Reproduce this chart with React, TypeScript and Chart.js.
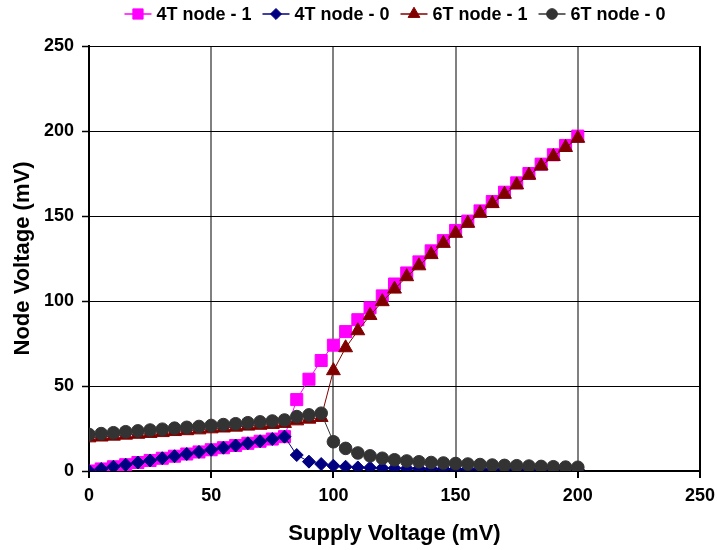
import React, { useEffect, useRef } from "react";
import { Chart, registerables } from "chart.js";

Chart.register(...registerables);

// ---- data ----
const supplyVoltage = [
  0, 5, 10, 15, 20, 25, 30, 35, 40, 45, 50, 55, 60, 65, 70, 75, 80, 85, 90, 95,
  100, 105, 110, 115, 120, 125, 130, 135, 140, 145, 150, 155, 160, 165, 170, 175,
  180, 185, 190, 195, 200,
];

const fourTNode1 = [
  0, 1.2, 2.5, 3.7, 5.0, 6.2, 7.5, 8.7, 10.0, 11.2, 12.5, 13.7, 15.0, 16.3, 17.5,
  18.8, 20.2, 42, 54, 65, 74, 82, 89, 96, 103, 110, 116.5, 123, 129.5, 135.5,
  141.5, 147, 153, 158.5, 164, 169.5, 175, 180.5, 186, 191.5, 197,
];

const fourTNode0 = [
  0, 1.2, 2.5, 3.7, 5.0, 6.2, 7.5, 8.7, 10.0, 11.2, 12.5, 13.7, 15.0, 16.3, 17.5,
  18.8, 20.2, 9.4, 5.5, 4.1, 3.1, 2.5, 2.1, 1.9, 1.7, 1.6, 1.5, 1.4, 1.3, 1.3,
  1.2, 1.2, 1.1, 1.1, 1.1, 1.0, 1.0, 1.0, 1.0, 0.9, 0.9,
];

const sixTNode1 = [
  19.5, 20.0, 20.5, 21.1, 21.6, 22.1, 22.6, 23.2, 23.7, 24.2, 24.8, 25.3, 25.8,
  26.4, 26.9, 27.4, 28.0, 29.5, 30.5, 31.5, 59, 72.5, 82.5, 91.5, 99.6, 107,
  114.3, 120.7, 127.3, 133.9, 139.8, 145.7, 151.6, 157.3, 162.8, 168.3, 174,
  179.4, 185, 190.3, 195.7,
];

const sixTNode0 = [
  21.5, 22.0, 22.5, 23.1, 23.6, 24.1, 24.6, 25.2, 25.7, 26.2, 26.8, 27.3, 27.8,
  28.4, 28.9, 29.4, 30.0, 32.0, 33.0, 34.0, 17.2, 13.3, 10.6, 8.9, 7.5, 6.6, 5.9,
  5.4, 5.0, 4.7, 4.4, 4.1, 3.8, 3.5, 3.3, 3.1, 2.9, 2.7, 2.5, 2.3, 2.2,
];

const seriesLabels = ["4T node - 1", "4T node - 0", "6T node - 1", "6T node - 0"];
const xAxisTitle = "Supply Voltage (mV)";
const yAxisTitle = "Node Voltage (mV)";
const axisMin = 0;
const axisMax = 250;
const axisStep = 50;

const FONT = "'Liberation Sans', Arial, Helvetica, sans-serif";

const toPoints = (ys: number[]) => supplyVoltage.map((x, i) => ({ x, y: ys[i] }));

function drawMarker(ctx: CanvasRenderingContext2D, style: string, x: number, y: number, r: number) {
  ctx.beginPath();
  if (style === "rect") {
    const s = r * Math.SQRT1_2;
    ctx.rect(x - s, y - s, 2 * s, 2 * s);
  } else if (style === "rectRot") {
    ctx.moveTo(x - r, y);
    ctx.lineTo(x, y - r);
    ctx.lineTo(x + r, y);
    ctx.lineTo(x, y + r);
    ctx.closePath();
  } else if (style === "triangle") {
    ctx.moveTo(x, y - r);
    ctx.lineTo(x + 0.866 * r, y + r / 2);
    ctx.lineTo(x - 0.866 * r, y + r / 2);
    ctx.closePath();
  } else {
    ctx.arc(x, y, r, 0, Math.PI * 2);
  }
  ctx.fill();
  ctx.stroke();
}

const legendPlugin = {
  id: "customLegend",
  afterDraw(chart: any) {
    const ctx: CanvasRenderingContext2D = chart.ctx;
    ctx.save();
    ctx.font = `bold 18px ${FONT}`;
    ctx.textBaseline = "middle";
    ctx.textAlign = "left";
    const lineLen = 27;
    const gapText = 5;
    const gapItem = 11;
    const dss = chart.data.datasets;
    const items = dss.map((ds: any) => ({ ds, w: ctx.measureText(ds.label).width }));
    const total =
      items.reduce((s: number, it: any) => s + lineLen + gapText + it.w, 0) +
      gapItem * (items.length - 1);
    let x = 395 - total / 2;
    const y = 14;
    items.forEach(({ ds, w }: any) => {
      ctx.strokeStyle = ds.borderColor;
      ctx.lineWidth = 1.5;
      ctx.beginPath();
      ctx.moveTo(x, y);
      ctx.lineTo(x + lineLen, y);
      ctx.stroke();
      ctx.fillStyle = ds.pointBackgroundColor;
      ctx.strokeStyle = ds.pointBorderColor;
      ctx.lineWidth = 1;
      drawMarker(ctx, ds.pointStyle, x + lineLen / 2, y, ds.pointRadius * 0.85);
      ctx.fillStyle = "#000";
      ctx.fillText(ds.label, x + lineLen + gapText, y + 1);
      x += lineLen + gapText + w + gapItem;
    });
    ctx.restore();
  },
};

const borderPlugin = {
  id: "plotBorder",
  afterDraw(chart: any) {
    const { ctx, chartArea } = chart;
    ctx.save();
    ctx.strokeStyle = "#000";
    ctx.lineWidth = 2;
    ctx.beginPath();
    ctx.moveTo(chartArea.right, chartArea.top);
    ctx.lineTo(chartArea.right, chartArea.bottom);
    ctx.stroke();
    ctx.restore();
  },
};

export default function App() {
  const canvasRef = useRef<HTMLCanvasElement | null>(null);

  useEffect(() => {
    document.body.style.margin = "0";
    const canvas = canvasRef.current;
    if (!canvas) return;

    const mk = (
      label: string,
      data: number[],
      color: string,
      style: string,
      radius: number,
      order: number
    ) => ({
      label,
      data: toPoints(data),
      borderColor: color,
      backgroundColor: color,
      pointBackgroundColor: color,
      pointBorderColor: color,
      pointStyle: style,
      pointRadius: radius,
      pointBorderWidth: 1,
      borderWidth: 1,
      tension: 0,
      order,
    });

    const chart = new Chart(canvas, {
      type: "line",
      data: {
        datasets: [
          mk(seriesLabels[0], fourTNode1, "#FF00FF", "rect", 8.5, 4),
          mk(seriesLabels[1], fourTNode0, "#000080", "rectRot", 6.5, 3),
          mk(seriesLabels[2], sixTNode1, "#800000", "triangle", 8, 2),
          mk(seriesLabels[3], sixTNode0, "#333333", "circle", 6.3, 1),
        ] as any,
      },
      options: {
        responsive: false,
        animation: false,
        devicePixelRatio: 1,
        layout: { padding: { top: 46, right: 17, left: 0, bottom: 0 } },
        plugins: {
          legend: { display: false },
          tooltip: { enabled: false },
        },
        scales: {
          x: {
            type: "linear",
            min: axisMin,
            max: axisMax,
            afterFit: (s: any) => {
              s.height = 79;
              s.paddingLeft = 0;
              s.paddingRight = 0;
            },
            ticks: {
              stepSize: axisStep,
              color: "#000",
              padding: 7,
              font: { family: FONT, size: 18, weight: "bold" },
              maxRotation: 0,
            },
            grid: {
              color: "#808080",
              lineWidth: 2,
              tickColor: "#000",
              tickWidth: 2,
              tickLength: 7,
            },
            border: { color: "#000", width: 2 },
            title: {
              display: true,
              text: xAxisTitle,
              color: "#000",
              font: { family: FONT, size: 22, weight: "bold" },
              padding: { top: 0, bottom: 3 },
            },
          },
          y: {
            type: "linear",
            min: axisMin,
            max: axisMax,
            afterFit: (s: any) => {
              s.width = 89;
              s.paddingTop = 0;
              s.paddingBottom = 0;
            },
            ticks: {
              stepSize: axisStep,
              color: "#000",
              padding: 8,
              font: { family: FONT, size: 18, weight: "bold" },
            },
            grid: {
              color: "#000",
              lineWidth: 1,
              tickColor: "#000",
              tickWidth: 1.5,
              tickLength: 7,
            },
            border: { color: "#000", width: 2 },
            title: {
              display: true,
              text: yAxisTitle,
              color: "#000",
              font: { family: FONT, size: 22, weight: "bold" },
              padding: { top: 10, bottom: 0 },
            },
          },
        },
      } as any,
      plugins: [legendPlugin, borderPlugin],
    });

    return () => {
      chart.destroy();
    };
  }, []);

  return (
    <div style={{ width: 717, height: 550, background: "#fff" }}>
      <canvas ref={canvasRef} width={717} height={550} style={{ display: "block" }} />
    </div>
  );
}
